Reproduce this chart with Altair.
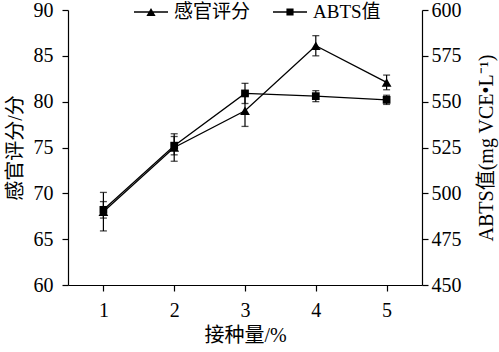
import altair as alt
import pandas as pd

# ---- data ----
x_vals = [1, 2, 3, 4, 5]
sensory = [68.0, 75.0, 79.0, 86.1, 82.1]
sensory_err = [2.1, 1.5, 1.7, 1.1, 0.8]
abts = [491.0, 526.0, 554.5, 553.0, 551.0]
abts_err = [4.5, 5.0, 5.5, 3.0, 2.5]
series_names = ["感官评分", "ABTS值"]
x_ticks = [1, 2, 3, 4, 5]
left_ticks = [60, 65, 70, 75, 80, 85, 90]
right_ticks = [450, 475, 500, 525, 550, 575, 600]

FONT = "Liberation Serif, Noto Sans CJK SC"

df_s = pd.DataFrame({
    "x": x_vals, "y": sensory,
    "lo": [v - e for v, e in zip(sensory, sensory_err)],
    "hi": [v + e for v, e in zip(sensory, sensory_err)],
})
df_a = pd.DataFrame({
    "x": x_vals, "y": abts,
    "lo": [v - e for v, e in zip(abts, abts_err)],
    "hi": [v + e for v, e in zip(abts, abts_err)],
})
df_leg = pd.DataFrame({"series": series_names, "x": [x_vals[0]] * 2, "y": [sensory[0]] * 2})

xscale = alt.Scale(domain=[0.5, 5.5], nice=False)
x_axis = alt.Axis(values=x_ticks, title="接种量/%", labelPadding=9, titlePadding=5, format="d")
X = alt.X("x:Q", scale=xscale, axis=x_axis)

l_scale = alt.Scale(domain=[60, 90], nice=False)
l_axis = alt.Axis(orient="left", values=left_ticks, title="感官评分/分", titlePadding=8, labelPadding=9)
r_scale = alt.Scale(domain=[450, 600], nice=False)
r_axis = alt.Axis(orient="right", values=right_ticks, title="ABTS值(mg VCE•L⁻¹)",
                  titleAngle=270, titleBaseline="top", titlePadding=15, labelPadding=3)


def group(df, scale, axis, shape, size):
    Y = lambda f: alt.Y(f, scale=scale, axis=axis)
    line = alt.Chart(df).mark_line(color="black", strokeWidth=1.3).encode(x=X, y=Y("y:Q"))
    rule = alt.Chart(df).mark_rule(color="black", strokeWidth=1.2).encode(x=X, y=Y("lo:Q"), y2="hi:Q")
    t_lo = alt.Chart(df).mark_tick(orient="horizontal", color="black", size=7, thickness=1.3).encode(x=X, y=Y("lo:Q"))
    t_hi = alt.Chart(df).mark_tick(orient="horizontal", color="black", size=7, thickness=1.3).encode(x=X, y=Y("hi:Q"))
    pts = alt.Chart(df).mark_point(shape=shape, filled=True, color="black", size=size, opacity=1).encode(x=X, y=Y("y:Q"))
    return [line, rule, t_lo, t_hi, pts], Y

# legend symbols: a thin filled bar (the line) plus the marker, in the -1..1 unit box
tri_path = "M-1,-0.04L1,-0.04L1,0.04L-1,0.04ZM-0.27,0.24L0,-0.24L0.27,0.24Z"
sq_path = "M-1,-0.04L1,-0.04L1,0.04L-1,0.04ZM-0.21,-0.21L0.21,-0.21L0.21,0.21L-0.21,0.21Z"

left_layers, YL = group(df_s, l_scale, l_axis, "triangle-up", 95)
legend_layer = alt.Chart(df_leg).mark_point(
    filled=True, opacity=0, size=10, color="black"
).encode(
    x=X, y=YL("y:Q"),
    shape=alt.Shape("series:N",
                    scale=alt.Scale(domain=series_names, range=[tri_path, sq_path]),
                    legend=alt.Legend(title=None, orient="none", legendX=65, legendY=-16,
                                      direction="horizontal", symbolSize=1156,
                                      symbolOpacity=1, symbolFillColor="black",
                                      labelFont=FONT, labelFontSize=19, labelColor="black",
                                      labelOffset=5, columnPadding=19, padding=0)),
)
left = alt.layer(*left_layers, legend_layer)

right_layers, _ = group(df_a, r_scale, r_axis, "square", 60)
right = alt.layer(*right_layers)

chart = alt.layer(left, right).resolve_scale(y="independent").properties(
    width=354, height=275,
    padding={"left": 68, "top": 10, "right": 77, "bottom": 67},
    autosize=alt.AutoSizeParams(type="none"),
    background="white",
).configure_axis(
    labelFont=FONT, titleFont=FONT, labelFontSize=20, titleFontSize=20,
    labelColor="black", titleColor="black", domainColor="black", tickColor="black",
    domainWidth=1.2, tickWidth=1.2, tickSize=6, grid=False, titleFontWeight="normal",
).configure_view(stroke=None)

chart.save("out.html", embed_options={"renderer": "svg", "actions": False})
